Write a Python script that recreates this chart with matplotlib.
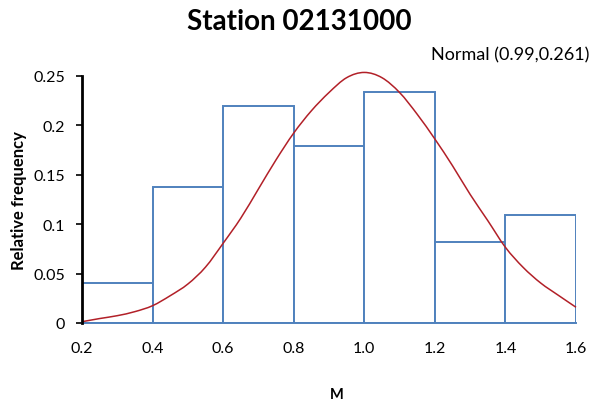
import matplotlib
matplotlib.use("Agg")
import matplotlib.pyplot as plt
from matplotlib.path import Path
from matplotlib.patches import PathPatch

plt.rcParams['font.family'] = ['Lato', 'DejaVu Sans']

bin_left = [0.2, 0.4, 0.6, 0.8, 1.0, 1.2, 1.4]
bin_width = 0.2
rel_freq = [0.0407, 0.1378, 0.2197, 0.1787, 0.2339, 0.0822, 0.1092]

curve_x = [0.2, 0.25, 0.3, 0.35, 0.4, 0.45, 0.5, 0.55, 0.6, 0.65, 0.7, 0.75, 0.8,
           0.85, 0.9, 0.95, 1.0, 1.05, 1.1, 1.15, 1.2, 1.25, 1.3, 1.35, 1.4,
           1.45, 1.5, 1.55, 1.6]
curve_y = [0.0013, 0.0045, 0.0074, 0.0115, 0.0175, 0.0276, 0.0394, 0.0565, 0.0806,
           0.106, 0.1355, 0.165, 0.192, 0.2145, 0.233, 0.248, 0.2533, 0.248,
           0.233, 0.211, 0.186, 0.159, 0.130, 0.1035, 0.0765, 0.0563, 0.0404,
           0.028, 0.0159]

x_ticks = [0.2, 0.4, 0.6, 0.8, 1.0, 1.2, 1.4, 1.6]
x_ticklabels = ['0.2', '0.4', '0.6', '0.8', '1.0', '1.2', '1.4', '1.6']
y_ticks = [0, 0.05, 0.1, 0.15, 0.2, 0.25]
y_ticklabels = ['0', '0.05', '0.1', '0.15', '0.2', '0.25']


def smooth_path(xs, ys):
    # Catmull-Rom style smoothing through the read points (as Excel does)
    pts = list(zip(xs, ys))
    verts = [pts[0]]
    codes = [Path.MOVETO]
    n = len(pts)
    for i in range(n - 1):
        p0 = pts[i - 1] if i > 0 else pts[i]
        p1 = pts[i]
        p2 = pts[i + 1]
        p3 = pts[i + 2] if i + 2 < n else pts[i + 1]
        c1 = (p1[0] + (p2[0] - p0[0]) / 6, p1[1] + (p2[1] - p0[1]) / 6)
        c2 = (p2[0] - (p3[0] - p1[0]) / 6, p2[1] - (p3[1] - p1[1]) / 6)
        verts += [c1, c2, p2]
        codes += [Path.CURVE4] * 3
    return Path(verts, codes)


fig = plt.figure(figsize=(5.94, 4.02), dpi=100)
ax = fig.add_axes([82/594, 1-324/402, (576-82)/594, (324-76.7)/402])

ax.bar(bin_left, rel_freq, width=bin_width, align='edge', facecolor='white',
       edgecolor='#4F81BD', linewidth=1.4, zorder=2)
patch = PathPatch(smooth_path(curve_x, curve_y), facecolor='none',
                  edgecolor='#B22028', linewidth=1.1, zorder=3, clip_on=False)
ax.add_patch(patch)

ax.set_xlim(0.2, 1.6)
ax.set_ylim(0, 0.25)
ax.set_xticks(x_ticks)
ax.set_xticklabels(x_ticklabels, fontsize=11.5)
ax.set_yticks(y_ticks)
ax.set_yticklabels(y_ticklabels, fontsize=11.5)
ax.tick_params(axis='x', length=0, pad=13)
ax.tick_params(axis='y', length=4, width=1.2, direction='out', pad=8)

for s in ['top', 'right']:
    ax.spines[s].set_visible(False)
ax.spines['bottom'].set_color('#4F81BD')
ax.spines['bottom'].set_linewidth(1.4)
ax.spines['left'].set_color('black')
ax.spines['left'].set_linewidth(2)
ax.spines['left'].set_zorder(4)

ax.set_ylabel('Relative frequency', fontsize=12, fontweight='bold', labelpad=5)
ax.set_xlabel('M', fontsize=10.5, fontweight='bold', labelpad=23)
ax.xaxis.label.set_x((337 - 82) / 494)

fig.text(299/594, 1-22/402, 'Station 02131000', fontsize=20, fontweight='bold',
         ha='center', va='center')
fig.text(589/594, 1-55/402, 'Normal (0.99,0.261)', fontsize=13, ha='right', va='center')

fig.savefig('out.png', dpi=100)
